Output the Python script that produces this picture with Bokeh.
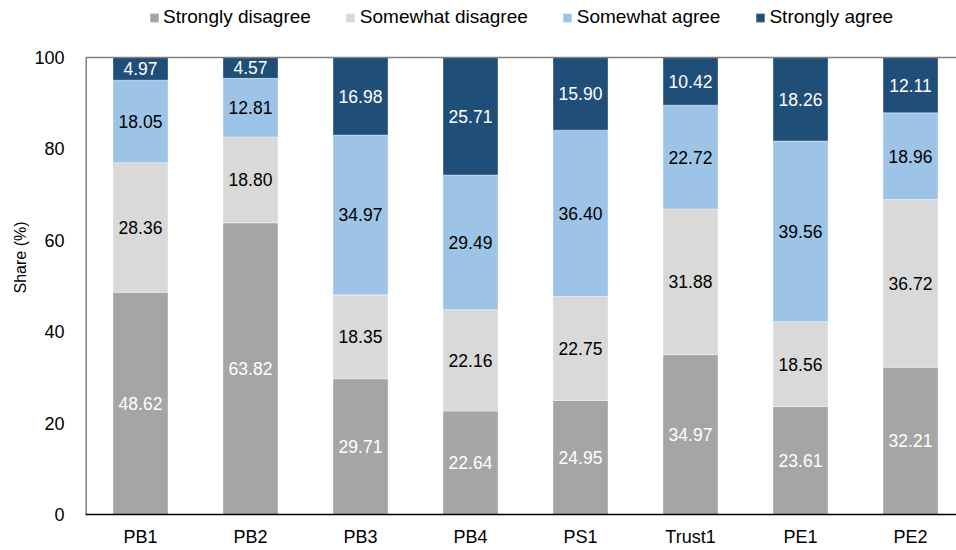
from bokeh.plotting import figure
from bokeh.models import ColumnDataSource, Legend, LegendItem, Span, Range1d, FixedTicker
from bokeh.core.properties import value
from bokeh.embed import file_html
from bokeh.resources import INLINE

categories = ["PB1", "PB2", "PB3", "PB4", "PS1", "Trust1", "PE1", "PE2"]
series_names = ["Strongly disagree", "Somewhat disagree", "Somewhat agree", "Strongly agree"]
strongly_disagree = [48.62, 63.82, 29.71, 22.64, 24.95, 34.97, 23.61, 32.21]
somewhat_disagree = [28.36, 18.80, 18.35, 22.16, 22.75, 31.88, 18.56, 36.72]
somewhat_agree = [18.05, 12.81, 34.97, 29.49, 36.40, 22.72, 39.56, 18.96]
strongly_agree = [4.97, 4.57, 16.98, 25.71, 15.90, 10.42, 18.26, 12.11]
y_ticks = [0, 20, 40, 60, 80, 100]

colors = ["#A5A5A5", "#D9D9D9", "#9DC3E6", "#1F4E79"]
text_colors = ["white", "black", "black", "white"]
FONT = "Liberation Sans"

x_start = -0.5
y_top = max(y_ticks)

p = figure(width=956, height=550, output_backend="svg", toolbar_location=None,
           x_range=Range1d(x_start, 7.418), y_range=Range1d(0, 112.47),
           min_border_left=85, min_border_right=0, min_border_bottom=36, min_border_top=0)
p.outline_line_color = None
p.grid.grid_line_color = None
p.background_fill_color = "white"
p.border_fill_color = "white"

x = list(range(len(categories)))
all_series = [strongly_disagree, somewhat_disagree, somewhat_agree, strongly_agree]
bottoms = [0.0] * len(categories)
renderers = []
for name, vals, col, tcol in zip(series_names, all_series, colors, text_colors):
    tops = [b + v for b, v in zip(bottoms, vals)]
    src = ColumnDataSource(dict(x=x, bottom=bottoms, top=tops,
                                mid=[b + v / 2 for b, v in zip(bottoms, vals)],
                                lab=["%.2f" % v for v in vals]))
    r = p.vbar(x="x", bottom="bottom", top="top", width=0.5, source=src,
               fill_color=col, line_color="white", line_width=0.6, line_alpha=0.6)
    renderers.append((name, r))
    p.text(x="x", y="mid", text="lab", source=src, text_color=tcol,
           text_font=value(FONT), text_font_size="17.5px",
           text_align="center", text_baseline="middle")
    bottoms = tops

# top border at 100 and left axis line from 0 to 100
p.add_layout(Span(location=y_top, dimension="width", line_color="#808080", line_width=1.5))
p.segment(x0=[x_start], y0=[0], x1=[x_start], y1=[y_top], line_color="#808080", line_width=3)

p.xaxis.ticker = FixedTicker(ticks=x)
p.xaxis.major_label_overrides = {i: c for i, c in enumerate(categories)}
p.xaxis.axis_line_color = "black"
p.xaxis.axis_line_width = 1.5
p.xaxis.major_tick_line_color = None
p.xaxis.minor_tick_line_color = None
p.xaxis.major_label_text_font = FONT
p.xaxis.major_label_text_font_size = "18px"
p.xaxis.major_label_text_color = "black"
p.xaxis.major_label_standoff = 6

p.yaxis.ticker = FixedTicker(ticks=y_ticks)
p.yaxis.axis_line_color = None
p.yaxis.major_tick_line_color = None
p.yaxis.minor_tick_line_color = None
p.yaxis.major_label_text_font = FONT
p.yaxis.major_label_text_font_size = "18px"
p.yaxis.major_label_text_color = "black"
p.yaxis.major_label_standoff = 15
p.yaxis.axis_label = "Share (%)"
p.yaxis.axis_label_text_font = FONT
p.yaxis.axis_label_text_font_size = "16px"
p.yaxis.axis_label_text_font_style = "normal"
p.yaxis.axis_label_text_color = "black"
p.yaxis.axis_label_standoff = 2

legend = Legend(items=[LegendItem(label=n, renderers=[r]) for n, r in renderers],
                orientation="horizontal", location="top_center",
                label_text_font=FONT, label_text_font_size="19px", label_text_color="black",
                glyph_width=11, glyph_height=11, label_standoff=4, spacing=34,
                border_line_color=None, background_fill_alpha=0,
                padding=0, margin=6, label_height=18)
p.add_layout(legend, "center")

open("out.html", "w").write(file_html(p, INLINE))
